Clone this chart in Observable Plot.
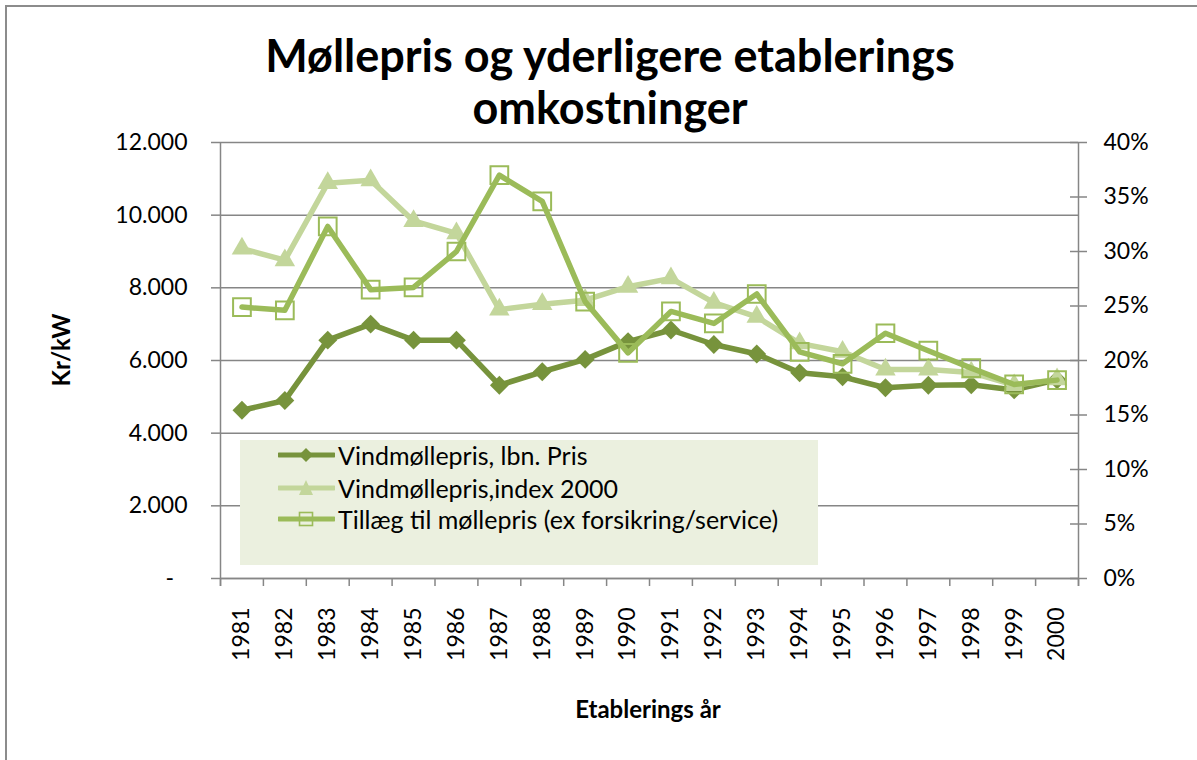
<!DOCTYPE html>
<html>
<head>
<meta charset="utf-8">
<script src="https://cdn.jsdelivr.net/npm/d3@7"></script>
<script src="https://cdn.jsdelivr.net/npm/@observablehq/plot@0.6"></script>
<style>
  html, body { margin: 0; padding: 0; background: #fff; }
  body { width: 1197px; height: 760px; overflow: hidden; position: relative; font-family: Lato, "Noto Sans", sans-serif; }
  #frame { position: absolute; left: 5px; top: 5px; width: 1400px; height: 900px; border-left: 2px solid #8c8c8c; border-top: 2px solid #8c8c8c; box-sizing: border-box; }
  #chart { position: absolute; left: 0; top: 0; }
  #title { position: absolute; left: 110px; width: 1000px; top: 29px; text-align: center; font-weight: 700; font-size: 45px; line-height: 52px; color: #000; }
  #ytitle { position: absolute; left: 60px; top: 350px; transform: translate(-50%, -50%) rotate(-90deg); font-weight: 700; font-size: 24px; white-space: nowrap; }
  #xtitle { position: absolute; left: 648px; top: 708px; transform: translate(-50%, -50%); font-weight: 700; font-size: 24px; white-space: nowrap; }
  #legend { position: absolute; left: 240px; top: 440px; width: 578px; height: 125px; background: #EBF0DF; }
  .lrow { position: absolute; left: 38px; height: 30px; display: flex; align-items: center; font-size: 25px; white-space: nowrap; }
  .lrow svg { margin-right: 3px; }
</style>
</head>
<body>
<div id="frame"></div>
<div id="chart"></div>
<div id="title">Møllepris og yderligere etablerings<br>omkostninger</div>
<div id="ytitle">Kr/kW</div>
<div id="xtitle">Etablerings år</div>
<div id="legend"></div>
<script>
// ---- data ----
const years = [1981, 1982, 1983, 1984, 1985, 1986, 1987, 1988, 1989, 1990,
               1991, 1992, 1993, 1994, 1995, 1996, 1997, 1998, 1999, 2000];
// Kr/kW, left axis
const lbnPris   = [4630, 4900, 6560, 7000, 6560, 6560, 5320, 5690, 6030, 6520,
                   6840, 6440, 6180, 5660, 5550, 5250, 5320, 5330, 5190, 5470];
const index2000 = [9080, 8760, 10880, 10960, 9840, 9500, 7400, 7550, 7660, 8030,
                   8260, 7590, 7200, 6470, 6240, 5750, 5750, 5670, 5320, 5480];
// percent, right axis
const tillaegPct = [24.9, 24.6, 32.3, 26.5, 26.7, 30.0, 37.0, 34.6, 25.4, 20.7,
                    24.5, 23.4, 26.1, 20.8, 19.7, 22.5, 20.9, 19.3, 17.8, 18.2];
const seriesNames = ["Vindmøllepris, lbn. Pris", "Vindmøllepris,index 2000", "Tillæg til møllepris (ex forsikring/service)"];
const leftTicks = [0, 2000, 4000, 6000, 8000, 10000, 12000];
const rightTicksPct = [0, 5, 10, 15, 20, 25, 30, 35, 40];

const colDark = "#77933C", colLight = "#C3D69B", colMid = "#9BBB59", axisCol = "#868686";

// right axis (0-40%) shares the left scale (0-12000)
const pctToY = 12000 / 40;
const rows1 = years.map((year, i) => ({year, value: lbnPris[i]}));
const rows2 = years.map((year, i) => ({year, value: index2000[i]}));
const rows3 = years.map((year, i) => ({year, value: tillaegPct[i] * pctToY}));
const boundaries = [years[0] - 0.5, ...years.map(y => y + 0.5)];
const rightTicks = rightTicksPct.map(p => p * pctToY);

const fmtLeft = d => d === 0 ? "-\u2007" : d3.format(",")(d).replace(/,/g, ".");

const chart = Plot.plot({
  width: 1197, height: 760,
  marginLeft: 220, marginRight: 119, marginTop: 142, marginBottom: 182,
  x: {type: "linear", domain: [years[0] - 0.5, years[years.length - 1] + 0.5]},
  y: {domain: [0, 12000]},
  style: {fontFamily: "Lato, 'Noto Sans', sans-serif", fontSize: "23px", color: "#000", background: "transparent", overflow: "visible"},
  marks: [
    Plot.gridY(leftTicks, {stroke: axisCol, strokeOpacity: 1, strokeWidth: 1.5}),
    Plot.ruleX([boundaries[0], boundaries[boundaries.length - 1]], {stroke: axisCol, strokeWidth: 1.5, insetBottom: -8}),
    Plot.ruleY([0], {stroke: axisCol, strokeWidth: 1.5}),
    Plot.axisY(leftTicks, {anchor: "left", tickSize: 9, tickPadding: 24, tickFormat: fmtLeft, stroke: axisCol, strokeWidth: 1.5, label: null}),
    Plot.axisY(rightTicks, {anchor: "right", tickSize: 17, dx: -9, tickFormat: () => "", stroke: axisCol, strokeWidth: 1.5, label: null}),
    Plot.axisY(rightTicks, {anchor: "right", tickSize: 0, tickPadding: 25, tickFormat: d => Math.round(d / pctToY) + "%", label: null}),
    Plot.axisX(boundaries, {anchor: "bottom", tickSize: 8, tickFormat: () => "", stroke: axisCol, strokeWidth: 1.5, label: null}),
    Plot.axisX(years, {anchor: "bottom", tickSize: 0, tickPadding: 29, tickRotate: -90, tickFormat: d => String(d), label: null}),
    Plot.line(rows1, {x: "year", y: "value", stroke: colDark, strokeWidth: 5.5, strokeLinejoin: "round"}),
    Plot.dot(rows1, {x: "year", y: "value", symbol: "diamond2", r: 8.5, fill: colDark, stroke: "none"}),
    Plot.line(rows2, {x: "year", y: "value", stroke: colLight, strokeWidth: 5.5, strokeLinejoin: "round"}),
    Plot.dot(rows2, {x: "year", y: "value", symbol: "triangle", r: 7.6, fill: colLight, stroke: "none"}),
    Plot.line(rows3, {x: "year", y: "value", stroke: colMid, strokeWidth: 5.5, strokeLinejoin: "round"}),
    Plot.dot(rows3, {x: "year", y: "value", symbol: "square", r: 10, fill: "none", stroke: colMid, strokeWidth: 2})
  ]
});
document.getElementById("chart").appendChild(chart);

// legend
const legend = d3.select("#legend");
const symbols = [
  {color: colDark, draw: g => g.append("path").attr("d", "M28,4 L35,11 L28,18 L21,11 Z").attr("fill", colDark)},
  {color: colLight, draw: g => g.append("path").attr("d", "M28,3 L35,18 L21,18 Z").attr("fill", colLight)},
  {color: colMid, draw: g => g.append("rect").attr("x", 21.5).attr("y", 4.5).attr("width", 13).attr("height", 13).attr("fill", "none").attr("stroke", colMid).attr("stroke-width", 1.6)}
];
const rowTops = [0, 33, 64];
seriesNames.forEach((name, i) => {
  const row = legend.append("div").attr("class", "lrow").style("top", rowTops[i] + "px");
  const svg = row.append("svg").attr("width", 57).attr("height", 22);
  svg.append("line").attr("x1", 1).attr("x2", 56).attr("y1", 11).attr("y2", 11)
     .attr("stroke", symbols[i].color).attr("stroke-width", 5).attr("stroke-linecap", "round");
  symbols[i].draw(svg);
  row.append("span").text(name);
});
</script>
</body>
</html>
